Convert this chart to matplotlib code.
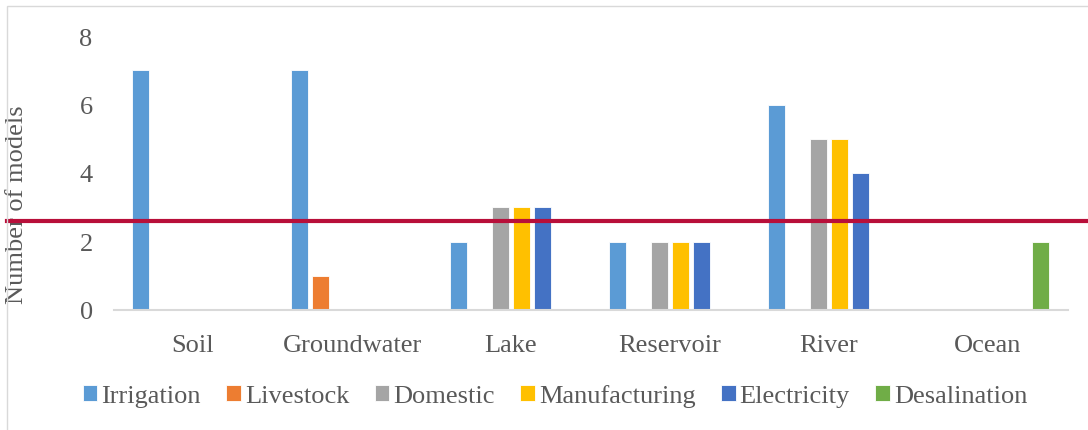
import matplotlib
matplotlib.use("Agg")
import matplotlib.pyplot as plt
import matplotlib.transforms as mtransforms
from matplotlib.patches import Rectangle
import numpy as np

categories = ["Soil", "Groundwater", "Lake", "Reservoir", "River", "Ocean"]
series_names = ["Irrigation", "Livestock", "Domestic", "Manufacturing", "Electricity", "Desalination"]
irrigation = [7, 7, 2, 2, 6, 0]
livestock = [0, 1, 0, 0, 0, 0]
domestic = [0, 0, 3, 2, 5, 0]
manufacturing = [0, 0, 3, 2, 5, 0]
electricity = [0, 0, 3, 2, 4, 0]
desalination = [0, 0, 0, 0, 0, 2]
threshold = 2.6
y_ticks = [0, 2, 4, 6, 8]
y_label = "Number of models"

colors = ["#5B9BD5", "#ED7D31", "#A5A5A5", "#FFC000", "#4472C4", "#70AD47"]
series = [irrigation, livestock, domestic, manufacturing, electricity, desalination]

plt.rcParams['font.family'] = ['Liberation Serif', 'DejaVu Serif']
text_color = "#595959"

fig = plt.figure(figsize=(10.88, 4.31), dpi=100)
ax = fig.add_axes([113.5 / 1088, (431 - 311) / 431, 954 / 1088, 274 / 431])

x = np.arange(len(categories))
step = 0.132
width = 0.11
for i, (name, vals, c) in enumerate(zip(series_names, series, colors)):
    ax.bar(x + (i - 2.5) * step, vals, width=width, color=c, label=name,
           edgecolor="white", linewidth=0.6, zorder=2)

ax.set_xlim(-0.5, len(categories) - 0.5)
ax.set_ylim(0, 8)
ax.set_yticks(y_ticks)
ax.set_yticklabels([str(t) for t in y_ticks], fontsize=19, color=text_color)
ax.set_xticks(x)
ax.set_xticklabels(categories, fontsize=19, color=text_color)
ax.tick_params(axis='y', length=0, pad=15)
ax.tick_params(axis='x', length=0, pad=17)
for s in ["top", "right", "left"]:
    ax.spines[s].set_visible(False)
ax.spines["bottom"].set_color("#D9D9D9")
ax.spines["bottom"].set_linewidth(1.5)

ax.set_ylabel(y_label, fontsize=19, color=text_color)
ax.yaxis.set_label_coords((28 - 113.5) / 954, (311 - 205) / 274)

trans = mtransforms.blended_transform_factory(ax.transAxes, ax.transData)
ax.plot([(7 - 113.5) / 954, (1090 - 113.5) / 954], [threshold, threshold],
        transform=trans, color="#B80F3A", linewidth=3.0, clip_on=False, zorder=5)

leg = fig.legend(loc="center", bbox_to_anchor=(555 / 1088, 1 - 397 / 431), ncol=6,
                 frameon=False, fontsize=19, handlelength=0.55, handleheight=0.55,
                 handletextpad=0.15, columnspacing=0.97, borderaxespad=0)
for t in leg.get_texts():
    t.set_color(text_color)

fig.patches.append(Rectangle((7 / 1088, -0.1), 1.2, (431 - 7) / 431 + 0.1,
                             fill=False, edgecolor="#D9D9D9", linewidth=1.0,
                             transform=fig.transFigure, figure=fig))

fig.savefig("out.png", dpi=100)
